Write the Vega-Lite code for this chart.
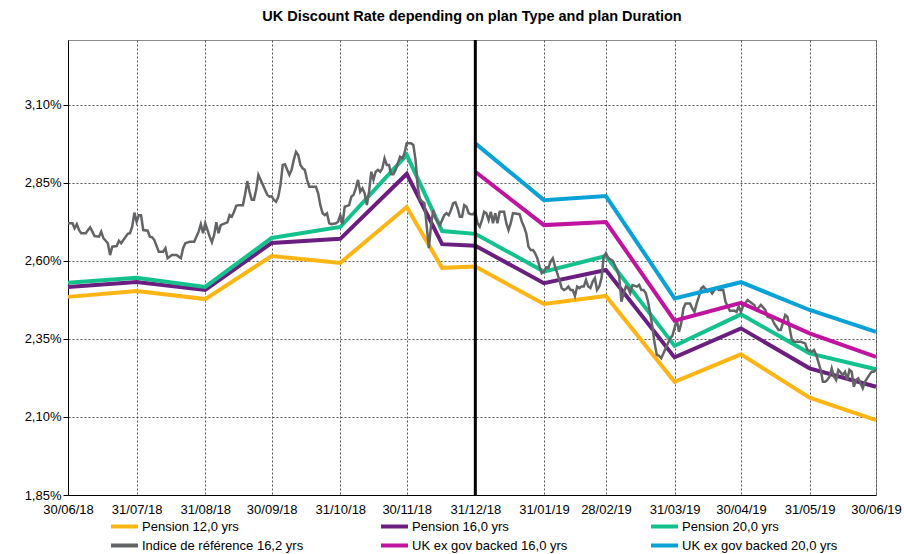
{
  "$schema": "https://vega.github.io/schema/vega-lite/v6.json",
  "width": 808,
  "height": 455,
  "autosize": {"type": "none"},
  "padding": {"left": 68, "top": 40, "right": 28, "bottom": 59},
  "background": "white",
  "title": {"text": "UK Discount Rate depending on plan Type and plan Duration", "font": "Liberation Sans", "fontSize": 14.5, "fontWeight": "bold", "color": "#000", "anchor": "middle", "offset": 14},
  "config": {
    "font": "Liberation Sans",
    "view": {"stroke": "#8c8c8c", "strokeWidth": 1},
    "axis": {"labelFont": "Liberation Sans", "labelFontSize": 13, "labelColor": "#000", "domainColor": "#000", "tickColor": "#000", "gridColor": "#555", "gridDash": [2, 2], "gridWidth": 1, "title": null}
  },
  "datasets": {
    "models": [
      {"date": "2018-06-30", "series": "Pension 12,0 yrs", "rate": 2.485},
      {"date": "2018-07-31", "series": "Pension 12,0 yrs", "rate": 2.504},
      {"date": "2018-08-31", "series": "Pension 12,0 yrs", "rate": 2.478},
      {"date": "2018-09-30", "series": "Pension 12,0 yrs", "rate": 2.616},
      {"date": "2018-10-31", "series": "Pension 12,0 yrs", "rate": 2.594},
      {"date": "2018-11-30", "series": "Pension 12,0 yrs", "rate": 2.773},
      {"date": "2018-12-16", "series": "Pension 12,0 yrs", "rate": 2.578},
      {"date": "2018-12-31", "series": "Pension 12,0 yrs", "rate": 2.582},
      {"date": "2019-01-31", "series": "Pension 12,0 yrs", "rate": 2.462},
      {"date": "2019-02-28", "series": "Pension 12,0 yrs", "rate": 2.488},
      {"date": "2019-03-31", "series": "Pension 12,0 yrs", "rate": 2.213},
      {"date": "2019-04-30", "series": "Pension 12,0 yrs", "rate": 2.301},
      {"date": "2019-05-31", "series": "Pension 12,0 yrs", "rate": 2.162},
      {"date": "2019-06-30", "series": "Pension 12,0 yrs", "rate": 2.090},
      {"date": "2018-06-30", "series": "Pension 16,0 yrs", "rate": 2.517},
      {"date": "2018-07-31", "series": "Pension 16,0 yrs", "rate": 2.533},
      {"date": "2018-08-31", "series": "Pension 16,0 yrs", "rate": 2.507},
      {"date": "2018-09-30", "series": "Pension 16,0 yrs", "rate": 2.658},
      {"date": "2018-10-31", "series": "Pension 16,0 yrs", "rate": 2.671},
      {"date": "2018-11-30", "series": "Pension 16,0 yrs", "rate": 2.879},
      {"date": "2018-12-16", "series": "Pension 16,0 yrs", "rate": 2.654},
      {"date": "2018-12-31", "series": "Pension 16,0 yrs", "rate": 2.649},
      {"date": "2019-01-31", "series": "Pension 16,0 yrs", "rate": 2.529},
      {"date": "2019-02-28", "series": "Pension 16,0 yrs", "rate": 2.571},
      {"date": "2019-03-31", "series": "Pension 16,0 yrs", "rate": 2.291},
      {"date": "2019-04-30", "series": "Pension 16,0 yrs", "rate": 2.384},
      {"date": "2019-05-31", "series": "Pension 16,0 yrs", "rate": 2.256},
      {"date": "2019-06-30", "series": "Pension 16,0 yrs", "rate": 2.197},
      {"date": "2018-06-30", "series": "Pension 20,0 yrs", "rate": 2.530},
      {"date": "2018-07-31", "series": "Pension 20,0 yrs", "rate": 2.546},
      {"date": "2018-08-31", "series": "Pension 20,0 yrs", "rate": 2.517},
      {"date": "2018-09-30", "series": "Pension 20,0 yrs", "rate": 2.674},
      {"date": "2018-10-31", "series": "Pension 20,0 yrs", "rate": 2.709},
      {"date": "2018-11-30", "series": "Pension 20,0 yrs", "rate": 2.940},
      {"date": "2018-12-16", "series": "Pension 20,0 yrs", "rate": 2.696},
      {"date": "2018-12-31", "series": "Pension 20,0 yrs", "rate": 2.687},
      {"date": "2019-01-31", "series": "Pension 20,0 yrs", "rate": 2.566},
      {"date": "2019-02-28", "series": "Pension 20,0 yrs", "rate": 2.616},
      {"date": "2019-03-31", "series": "Pension 20,0 yrs", "rate": 2.328},
      {"date": "2019-04-30", "series": "Pension 20,0 yrs", "rate": 2.429},
      {"date": "2019-05-31", "series": "Pension 20,0 yrs", "rate": 2.304},
      {"date": "2019-06-30", "series": "Pension 20,0 yrs", "rate": 2.253}
    ],
    "ukgov": [
      {"date": "2018-12-31", "series": "UK ex gov backed 16,0 yrs", "rate": 2.886},
      {"date": "2019-01-31", "series": "UK ex gov backed 16,0 yrs", "rate": 2.715},
      {"date": "2019-02-28", "series": "UK ex gov backed 16,0 yrs", "rate": 2.725},
      {"date": "2019-03-31", "series": "UK ex gov backed 16,0 yrs", "rate": 2.409},
      {"date": "2019-04-30", "series": "UK ex gov backed 16,0 yrs", "rate": 2.466},
      {"date": "2019-05-31", "series": "UK ex gov backed 16,0 yrs", "rate": 2.368},
      {"date": "2019-06-30", "series": "UK ex gov backed 16,0 yrs", "rate": 2.293},
      {"date": "2018-12-31", "series": "UK ex gov backed 20,0 yrs", "rate": 2.977},
      {"date": "2019-01-31", "series": "UK ex gov backed 20,0 yrs", "rate": 2.795},
      {"date": "2019-02-28", "series": "UK ex gov backed 20,0 yrs", "rate": 2.808},
      {"date": "2019-03-31", "series": "UK ex gov backed 20,0 yrs", "rate": 2.480},
      {"date": "2019-04-30", "series": "UK ex gov backed 20,0 yrs", "rate": 2.532},
      {"date": "2019-05-31", "series": "UK ex gov backed 20,0 yrs", "rate": 2.443},
      {"date": "2019-06-30", "series": "UK ex gov backed 20,0 yrs", "rate": 2.373}
    ],
    "index": [
      {"date": "2018-06-30", "rate": 2.721}, {"date": "2018-07-02", "rate": 2.721}, {"date": "2018-07-03", "rate": 2.705}, {"date": "2018-07-04", "rate": 2.718}, {"date": "2018-07-05", "rate": 2.699}, {"date": "2018-07-06", "rate": 2.689}, {"date": "2018-07-08", "rate": 2.689}, {"date": "2018-07-10", "rate": 2.708}, {"date": "2018-07-11", "rate": 2.694}, {"date": "2018-07-12", "rate": 2.680}, {"date": "2018-07-14", "rate": 2.678}, {"date": "2018-07-15", "rate": 2.694}, {"date": "2018-07-16", "rate": 2.673}, {"date": "2018-07-18", "rate": 2.657}, {"date": "2018-07-19", "rate": 2.619}, {"date": "2018-07-20", "rate": 2.646}, {"date": "2018-07-22", "rate": 2.648}, {"date": "2018-07-23", "rate": 2.665}, {"date": "2018-07-24", "rate": 2.657}, {"date": "2018-07-25", "rate": 2.667}, {"date": "2018-07-27", "rate": 2.687}, {"date": "2018-07-28", "rate": 2.689}, {"date": "2018-07-29", "rate": 2.710}, {"date": "2018-07-30", "rate": 2.755}, {"date": "2018-07-31", "rate": 2.726},
      {"date": "2018-08-01", "rate": 2.747}, {"date": "2018-08-02", "rate": 2.747}, {"date": "2018-08-03", "rate": 2.699}, {"date": "2018-08-05", "rate": 2.697}, {"date": "2018-08-06", "rate": 2.678}, {"date": "2018-08-07", "rate": 2.676}, {"date": "2018-08-08", "rate": 2.667}, {"date": "2018-08-10", "rate": 2.630}, {"date": "2018-08-12", "rate": 2.630}, {"date": "2018-08-13", "rate": 2.641}, {"date": "2018-08-14", "rate": 2.609}, {"date": "2018-08-16", "rate": 2.619}, {"date": "2018-08-18", "rate": 2.619}, {"date": "2018-08-19", "rate": 2.614}, {"date": "2018-08-20", "rate": 2.609}, {"date": "2018-08-21", "rate": 2.641}, {"date": "2018-08-22", "rate": 2.657}, {"date": "2018-08-24", "rate": 2.662}, {"date": "2018-08-26", "rate": 2.662}, {"date": "2018-08-28", "rate": 2.694}, {"date": "2018-08-29", "rate": 2.718}, {"date": "2018-08-30", "rate": 2.689}, {"date": "2018-08-31", "rate": 2.721},
      {"date": "2018-09-02", "rate": 2.678}, {"date": "2018-09-03", "rate": 2.660}, {"date": "2018-09-04", "rate": 2.683}, {"date": "2018-09-05", "rate": 2.724}, {"date": "2018-09-06", "rate": 2.689}, {"date": "2018-09-07", "rate": 2.715}, {"date": "2018-09-08", "rate": 2.718}, {"date": "2018-09-10", "rate": 2.724}, {"date": "2018-09-11", "rate": 2.747}, {"date": "2018-09-12", "rate": 2.742}, {"date": "2018-09-13", "rate": 2.758}, {"date": "2018-09-14", "rate": 2.777}, {"date": "2018-09-15", "rate": 2.779}, {"date": "2018-09-17", "rate": 2.779}, {"date": "2018-09-18", "rate": 2.814}, {"date": "2018-09-19", "rate": 2.856}, {"date": "2018-09-20", "rate": 2.822}, {"date": "2018-09-21", "rate": 2.796}, {"date": "2018-09-22", "rate": 2.796}, {"date": "2018-09-23", "rate": 2.828}, {"date": "2018-09-24", "rate": 2.876}, {"date": "2018-09-26", "rate": 2.844}, {"date": "2018-09-27", "rate": 2.828}, {"date": "2018-09-28", "rate": 2.812}, {"date": "2018-09-29", "rate": 2.806}, {"date": "2018-09-30", "rate": 2.808},
      {"date": "2018-10-01", "rate": 2.796}, {"date": "2018-10-02", "rate": 2.790}, {"date": "2018-10-03", "rate": 2.806}, {"date": "2018-10-04", "rate": 2.844}, {"date": "2018-10-05", "rate": 2.908}, {"date": "2018-10-06", "rate": 2.910}, {"date": "2018-10-08", "rate": 2.876}, {"date": "2018-10-09", "rate": 2.892}, {"date": "2018-10-10", "rate": 2.924}, {"date": "2018-10-11", "rate": 2.950}, {"date": "2018-10-12", "rate": 2.940}, {"date": "2018-10-13", "rate": 2.908}, {"date": "2018-10-14", "rate": 2.897}, {"date": "2018-10-15", "rate": 2.892}, {"date": "2018-10-16", "rate": 2.860}, {"date": "2018-10-17", "rate": 2.838}, {"date": "2018-10-20", "rate": 2.838}, {"date": "2018-10-21", "rate": 2.817}, {"date": "2018-10-22", "rate": 2.779}, {"date": "2018-10-23", "rate": 2.753}, {"date": "2018-10-24", "rate": 2.747}, {"date": "2018-10-25", "rate": 2.753}, {"date": "2018-10-26", "rate": 2.721}, {"date": "2018-10-27", "rate": 2.718}, {"date": "2018-10-29", "rate": 2.721}, {"date": "2018-10-30", "rate": 2.726}, {"date": "2018-10-31", "rate": 2.747},
      {"date": "2018-11-01", "rate": 2.718}, {"date": "2018-11-02", "rate": 2.774}, {"date": "2018-11-04", "rate": 2.779}, {"date": "2018-11-05", "rate": 2.806}, {"date": "2018-11-06", "rate": 2.812}, {"date": "2018-11-07", "rate": 2.833}, {"date": "2018-11-08", "rate": 2.860}, {"date": "2018-11-09", "rate": 2.822}, {"date": "2018-11-10", "rate": 2.833}, {"date": "2018-11-11", "rate": 2.817}, {"date": "2018-11-12", "rate": 2.779}, {"date": "2018-11-13", "rate": 2.822}, {"date": "2018-11-14", "rate": 2.886}, {"date": "2018-11-15", "rate": 2.860}, {"date": "2018-11-16", "rate": 2.886}, {"date": "2018-11-17", "rate": 2.892}, {"date": "2018-11-18", "rate": 2.886}, {"date": "2018-11-19", "rate": 2.897}, {"date": "2018-11-20", "rate": 2.929}, {"date": "2018-11-21", "rate": 2.908}, {"date": "2018-11-22", "rate": 2.908}, {"date": "2018-11-23", "rate": 2.878}, {"date": "2018-11-24", "rate": 2.878}, {"date": "2018-11-25", "rate": 2.892}, {"date": "2018-11-26", "rate": 2.913}, {"date": "2018-11-27", "rate": 2.934}, {"date": "2018-11-28", "rate": 2.929}, {"date": "2018-11-29", "rate": 2.945}, {"date": "2018-11-30", "rate": 2.977},
      {"date": "2018-12-02", "rate": 2.977}, {"date": "2018-12-03", "rate": 2.972}, {"date": "2018-12-04", "rate": 2.924}, {"date": "2018-12-05", "rate": 2.838}, {"date": "2018-12-06", "rate": 2.796}, {"date": "2018-12-08", "rate": 2.785}, {"date": "2018-12-09", "rate": 2.715}, {"date": "2018-12-10", "rate": 2.641}, {"date": "2018-12-11", "rate": 2.715}, {"date": "2018-12-12", "rate": 2.763}, {"date": "2018-12-13", "rate": 2.737}, {"date": "2018-12-14", "rate": 2.726}, {"date": "2018-12-15", "rate": 2.715}, {"date": "2018-12-16", "rate": 2.731}, {"date": "2018-12-17", "rate": 2.747}, {"date": "2018-12-18", "rate": 2.753}, {"date": "2018-12-19", "rate": 2.747}, {"date": "2018-12-20", "rate": 2.763}, {"date": "2018-12-21", "rate": 2.785}, {"date": "2018-12-22", "rate": 2.788}, {"date": "2018-12-23", "rate": 2.769}, {"date": "2018-12-24", "rate": 2.742}, {"date": "2018-12-25", "rate": 2.742}, {"date": "2018-12-26", "rate": 2.779}, {"date": "2018-12-27", "rate": 2.774}, {"date": "2018-12-28", "rate": 2.753}, {"date": "2018-12-29", "rate": 2.750}, {"date": "2018-12-30", "rate": 2.750}, {"date": "2018-12-31", "rate": 2.758},
      {"date": "2019-01-01", "rate": 2.721}, {"date": "2019-01-02", "rate": 2.710}, {"date": "2019-01-03", "rate": 2.731}, {"date": "2019-01-04", "rate": 2.758}, {"date": "2019-01-05", "rate": 2.753}, {"date": "2019-01-06", "rate": 2.731}, {"date": "2019-01-07", "rate": 2.758}, {"date": "2019-01-08", "rate": 2.721}, {"date": "2019-01-09", "rate": 2.753}, {"date": "2019-01-10", "rate": 2.721}, {"date": "2019-01-11", "rate": 2.758}, {"date": "2019-01-13", "rate": 2.758}, {"date": "2019-01-14", "rate": 2.721}, {"date": "2019-01-15", "rate": 2.699}, {"date": "2019-01-16", "rate": 2.721}, {"date": "2019-01-17", "rate": 2.753}, {"date": "2019-01-20", "rate": 2.750}, {"date": "2019-01-21", "rate": 2.726}, {"date": "2019-01-22", "rate": 2.710}, {"date": "2019-01-23", "rate": 2.689}, {"date": "2019-01-24", "rate": 2.646}, {"date": "2019-01-25", "rate": 2.635}, {"date": "2019-01-26", "rate": 2.635}, {"date": "2019-01-27", "rate": 2.625}, {"date": "2019-01-28", "rate": 2.609}, {"date": "2019-01-29", "rate": 2.582}, {"date": "2019-01-30", "rate": 2.561}, {"date": "2019-01-31", "rate": 2.566},
      {"date": "2019-02-01", "rate": 2.580}, {"date": "2019-02-02", "rate": 2.577}, {"date": "2019-02-03", "rate": 2.598}, {"date": "2019-02-04", "rate": 2.609}, {"date": "2019-02-05", "rate": 2.582}, {"date": "2019-02-06", "rate": 2.561}, {"date": "2019-02-07", "rate": 2.539}, {"date": "2019-02-08", "rate": 2.513}, {"date": "2019-02-09", "rate": 2.507}, {"date": "2019-02-10", "rate": 2.510}, {"date": "2019-02-11", "rate": 2.518}, {"date": "2019-02-12", "rate": 2.507}, {"date": "2019-02-13", "rate": 2.507}, {"date": "2019-02-14", "rate": 2.488}, {"date": "2019-02-15", "rate": 2.518}, {"date": "2019-02-16", "rate": 2.513}, {"date": "2019-02-17", "rate": 2.518}, {"date": "2019-02-18", "rate": 2.518}, {"date": "2019-02-19", "rate": 2.539}, {"date": "2019-02-20", "rate": 2.518}, {"date": "2019-02-21", "rate": 2.513}, {"date": "2019-02-22", "rate": 2.534}, {"date": "2019-02-23", "rate": 2.545}, {"date": "2019-02-24", "rate": 2.507}, {"date": "2019-02-25", "rate": 2.518}, {"date": "2019-02-26", "rate": 2.545}, {"date": "2019-02-27", "rate": 2.614}, {"date": "2019-02-28", "rate": 2.625},
      {"date": "2019-03-01", "rate": 2.609}, {"date": "2019-03-03", "rate": 2.601}, {"date": "2019-03-04", "rate": 2.587}, {"date": "2019-03-05", "rate": 2.571}, {"date": "2019-03-06", "rate": 2.550}, {"date": "2019-03-07", "rate": 2.470}, {"date": "2019-03-08", "rate": 2.496}, {"date": "2019-03-09", "rate": 2.518}, {"date": "2019-03-10", "rate": 2.513}, {"date": "2019-03-11", "rate": 2.497}, {"date": "2019-03-12", "rate": 2.523}, {"date": "2019-03-14", "rate": 2.518}, {"date": "2019-03-15", "rate": 2.523}, {"date": "2019-03-16", "rate": 2.507}, {"date": "2019-03-17", "rate": 2.507}, {"date": "2019-03-18", "rate": 2.497}, {"date": "2019-03-19", "rate": 2.470}, {"date": "2019-03-20", "rate": 2.432}, {"date": "2019-03-21", "rate": 2.389}, {"date": "2019-03-22", "rate": 2.336}, {"date": "2019-03-23", "rate": 2.299}, {"date": "2019-03-24", "rate": 2.296}, {"date": "2019-03-25", "rate": 2.288}, {"date": "2019-03-26", "rate": 2.304}, {"date": "2019-03-27", "rate": 2.320}, {"date": "2019-03-28", "rate": 2.336}, {"date": "2019-03-29", "rate": 2.352}, {"date": "2019-03-30", "rate": 2.360},
      {"date": "2019-04-01", "rate": 2.411}, {"date": "2019-04-02", "rate": 2.373}, {"date": "2019-04-03", "rate": 2.400}, {"date": "2019-04-04", "rate": 2.448}, {"date": "2019-04-05", "rate": 2.464}, {"date": "2019-04-07", "rate": 2.464}, {"date": "2019-04-08", "rate": 2.448}, {"date": "2019-04-09", "rate": 2.437}, {"date": "2019-04-10", "rate": 2.464}, {"date": "2019-04-11", "rate": 2.486}, {"date": "2019-04-12", "rate": 2.512}, {"date": "2019-04-13", "rate": 2.518}, {"date": "2019-04-15", "rate": 2.502}, {"date": "2019-04-16", "rate": 2.507}, {"date": "2019-04-17", "rate": 2.496}, {"date": "2019-04-18", "rate": 2.507}, {"date": "2019-04-19", "rate": 2.513}, {"date": "2019-04-20", "rate": 2.507}, {"date": "2019-04-22", "rate": 2.507}, {"date": "2019-04-23", "rate": 2.470}, {"date": "2019-04-24", "rate": 2.454}, {"date": "2019-04-25", "rate": 2.440}, {"date": "2019-04-27", "rate": 2.441}, {"date": "2019-04-28", "rate": 2.437}, {"date": "2019-04-29", "rate": 2.454}, {"date": "2019-04-30", "rate": 2.437},
      {"date": "2019-05-01", "rate": 2.456}, {"date": "2019-05-03", "rate": 2.475}, {"date": "2019-05-06", "rate": 2.459}, {"date": "2019-05-07", "rate": 2.443}, {"date": "2019-05-09", "rate": 2.459}, {"date": "2019-05-11", "rate": 2.443}, {"date": "2019-05-12", "rate": 2.421}, {"date": "2019-05-14", "rate": 2.416}, {"date": "2019-05-15", "rate": 2.400}, {"date": "2019-05-17", "rate": 2.379}, {"date": "2019-05-18", "rate": 2.379}, {"date": "2019-05-20", "rate": 2.427}, {"date": "2019-05-21", "rate": 2.421}, {"date": "2019-05-22", "rate": 2.384}, {"date": "2019-05-23", "rate": 2.347}, {"date": "2019-05-24", "rate": 2.341}, {"date": "2019-05-27", "rate": 2.341}, {"date": "2019-05-29", "rate": 2.336}, {"date": "2019-05-30", "rate": 2.315},
      {"date": "2019-06-01", "rate": 2.309}, {"date": "2019-06-02", "rate": 2.315}, {"date": "2019-06-03", "rate": 2.299}, {"date": "2019-06-05", "rate": 2.251}, {"date": "2019-06-06", "rate": 2.213}, {"date": "2019-06-07", "rate": 2.213}, {"date": "2019-06-08", "rate": 2.219}, {"date": "2019-06-09", "rate": 2.229}, {"date": "2019-06-10", "rate": 2.256}, {"date": "2019-06-11", "rate": 2.229}, {"date": "2019-06-12", "rate": 2.219}, {"date": "2019-06-13", "rate": 2.251}, {"date": "2019-06-15", "rate": 2.235}, {"date": "2019-06-16", "rate": 2.245}, {"date": "2019-06-17", "rate": 2.219}, {"date": "2019-06-18", "rate": 2.251}, {"date": "2019-06-19", "rate": 2.245}, {"date": "2019-06-20", "rate": 2.197}, {"date": "2019-06-21", "rate": 2.219}, {"date": "2019-06-22", "rate": 2.224}, {"date": "2019-06-23", "rate": 2.208}, {"date": "2019-06-24", "rate": 2.192}, {"date": "2019-06-25", "rate": 2.213}, {"date": "2019-06-27", "rate": 2.235}, {"date": "2019-06-28", "rate": 2.245}, {"date": "2019-06-29", "rate": 2.245}, {"date": "2019-06-30", "rate": 2.251}
    ],
    "marker": [{"date": "2018-12-31"}]
  },
  "encoding": {
    "x": {
      "field": "date", "type": "temporal",
      "scale": {"type": "utc", "domain": [{"year": 2018, "month": 6, "date": 30, "utc": true}, {"year": 2019, "month": 6, "date": 30, "utc": true}], "nice": false},
      "axis": {
        "values": [
          {"year": 2018, "month": 6, "date": 30, "utc": true}, {"year": 2018, "month": 7, "date": 31, "utc": true}, {"year": 2018, "month": 8, "date": 31, "utc": true}, {"year": 2018, "month": 9, "date": 30, "utc": true}, {"year": 2018, "month": 10, "date": 31, "utc": true}, {"year": 2018, "month": 11, "date": 30, "utc": true}, {"year": 2018, "month": 12, "date": 31, "utc": true}, {"year": 2019, "month": 1, "date": 31, "utc": true}, {"year": 2019, "month": 2, "date": 28, "utc": true}, {"year": 2019, "month": 3, "date": 31, "utc": true}, {"year": 2019, "month": 4, "date": 30, "utc": true}, {"year": 2019, "month": 5, "date": 31, "utc": true}, {"year": 2019, "month": 6, "date": 30, "utc": true}
        ],
        "labelExpr": "utcFormat(datum.value, '%d/%m/%y')",
        "ticks": false, "labelPadding": 8, "grid": true, "labelFlush": false, "labelOverlap": false
      }
    },
    "y": {
      "field": "rate", "type": "quantitative",
      "scale": {"domain": [1.85, 3.3083], "nice": false, "zero": false},
      "axis": {
        "values": [1.85, 2.1, 2.35, 2.6, 2.85, 3.1],
        "labelExpr": "replace(format(datum.value, '.2f'), '.', ',') + '%'",
        "tickSize": 5, "labelPadding": 2, "grid": true
      }
    }
  },
  "layer": [
    {
      "data": {"name": "models"},
      "mark": {"type": "line", "strokeWidth": 4, "strokeJoin": "miter"},
      "encoding": {
        "color": {
          "field": "series", "type": "nominal",
          "scale": {
            "domain": ["Pension 12,0 yrs", "Pension 16,0 yrs", "Pension 20,0 yrs", "Indice de référence 16,2 yrs", "UK ex gov backed 16,0 yrs", "UK ex gov backed 20,0 yrs"],
            "range": ["#FDB515", "#6A1F80", "#14C18C", "#636466", "#C0139F", "#0AA2D6"]
          },
          "legend": {
            "title": null, "orient": "none", "legendX": 41, "legendY": 479, "direction": "horizontal", "columns": 3, "gridAlign": "all",
            "columnPadding": 75, "rowPadding": 4, "clipHeight": 15, "symbolType": "stroke", "symbolStrokeWidth": 4, "symbolSize": 729,
            "labelFont": "Liberation Sans", "labelFontSize": 13, "labelColor": "#000", "labelOffset": 2, "labelLimit": 300
          }
        }
      }
    },
    {
      "data": {"name": "index"},
      "mark": {"type": "line", "strokeWidth": 2.5, "color": "#636466"},
      "encoding": {"color": {"datum": "Indice de référence 16,2 yrs"}}
    },
    {
      "data": {"name": "ukgov"},
      "mark": {"type": "line", "strokeWidth": 4},
      "encoding": {"color": {"field": "series", "type": "nominal"}}
    },
    {
      "data": {"name": "marker"},
      "mark": {"type": "rule", "color": "#000", "strokeWidth": 3},
      "encoding": {"x": {"field": "date", "type": "temporal"}, "y": null}
    }
  ]
}
